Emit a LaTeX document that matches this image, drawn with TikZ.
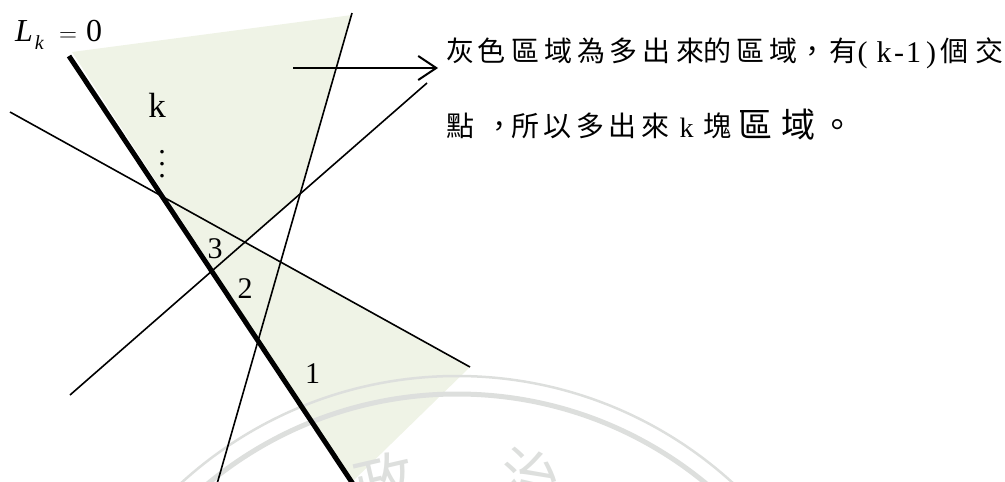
\documentclass[tikz,border=0pt]{standalone}
\usepackage{fontspec}
\setmainfont{Liberation Serif}
\newfontfamily\cjk{Noto Sans CJK TC}
\usetikzlibrary{arrows.meta}
\definecolor{shadecol}{RGB}{239,243,230}
\definecolor{wmark}{RGB}{221,223,221}
\tikzset{
  thinline/.style={line width=1.6pt, black},
  thickline/.style={line width=5pt, black},
  cjkA/.style={font=\cjk\fontsize{28}{28}\selectfont, anchor=base, inner sep=0pt},
  cjkB/.style={font=\cjk\fontsize{34}{34}\selectfont, anchor=base, inner sep=0pt},
  latA/.style={font=\fontsize{30}{30}\selectfont, anchor=base, inner sep=0pt},
  latB/.style={font=\fontsize{28}{28}\selectfont, anchor=base, inner sep=0pt},
  digit/.style={font=\fontsize{30}{30}\selectfont, anchor=base, inner sep=0pt},
  wmtext/.style={font=\cjk\fontsize{60}{60}\selectfont, text=wmark, inner sep=0pt}
}
\begin{document}
\begin{tikzpicture}[x=1pt,y=-1pt]
\path[use as bounding box] (0,0) rectangle (1005,482);
\clip (0,0) rectangle (1005,482);
% geometry
\coordinate (A1) at (69,56);  \coordinate (A2) at (353,484);
\coordinate (B1) at (10,112); \coordinate (B2) at (470,367);
\coordinate (C1) at (70,395); \coordinate (C2) at (427,83);
\coordinate (D1) at (352,13); \coordinate (D2) at (217,484);
\coordinate (S1) at (72,52);  \coordinate (S2) at (352,15);
\coordinate (S6) at (352,482);
% shaded region
\fill[shadecol] (S1) -- (S2) -- (intersection of D1--D2 and C1--C2)
  -- (intersection of C1--C2 and B1--B2) -- (B2) -- (S6) -- cycle;
% watermark
\draw[wmark, line width=2.5pt] (457,785) circle [radius=409pt];
\draw[wmark, line width=5pt] (457,785) circle [radius=391pt];
\node[wmtext, rotate=13] (wm1) at (385,482) {政};
\node[wmtext, rotate=-13] (wm2) at (530,478) {治};
% lines
\draw[thinline] (B1) -- (B2);
\draw[thinline] (C1) -- (C2);
\draw[thinline] (D1) -- (D2);
\draw[thickline] (A1) -- (A2);
% arrow
\coordinate (R1) at (293,68);
\coordinate (R2) at (438,68);
\draw[line width=2pt, -{Straight Barb[length=18pt,width=24pt,line width=2pt]}] (R1) -- (R2);
% labels
\node[font=\fontsize{32}{32}\selectfont, anchor=base west, inner sep=0pt] (Lk) at (15,41)
  {\textit{L}\kern2pt\raisebox{-8pt}{\fontsize{20}{20}\selectfont\textit{k}}\kern15pt{\fontsize{38}{38}\selectfont$=$}\kern9pt 0};
\node[font=\fontsize{35}{35}\selectfont, anchor=base, inner sep=0pt] (lk) at (157,117) {k};
\node[font=\fontsize{30}{30}\selectfont, anchor=base, inner sep=0pt] (dots) at (162,177.5)
  {\vbox{\baselineskip=12pt\lineskiplimit=-100pt\hbox{.}\hbox{.}\hbox{.}}};
\node[digit] (n3) at (215,258) {3};
\node[digit] (n2) at (245,298) {2};
\node[digit] (n1) at (312.5,383) {1};
% text line 1
\foreach \c/\x [count=\i] in {灰/460.5,色/491.5,區/525.5,域/558.5,為/591.5,多/623.5,出/656,來/690,的/717.5,區/750,域/783.5,，/812.5,有/843.5,個/954.5,交/989.5}
  \node[cjkA] (la\i) at (\x,61) {\c};
\node[latA] (lp1) at (862.5,62) {(};
\node[latA] (lk1) at (884,62) {k};
\node[latA] (lm1) at (899,62) {-};
\node[latA] (lo1) at (913.5,62) {1};
\node[latA] (lp2) at (931,62) {)};
% text line 2
\foreach \c/\x [count=\i] in {點/460.5,，/499.5,所/525,以/557.5,多/590,出/622.5,來/655,塊/717.5}
  \node[cjkA] (lb\i) at (\x,136) {\c};
\node[latB] (lk2) at (686.5,137) {k};
\node[cjkB] (big1) at (755,137) {區};
\node[cjkB] (big2) at (798,137) {域};
\node[cjkB] (stop) at (837.5,137) {。};
\end{tikzpicture}
\end{document}
